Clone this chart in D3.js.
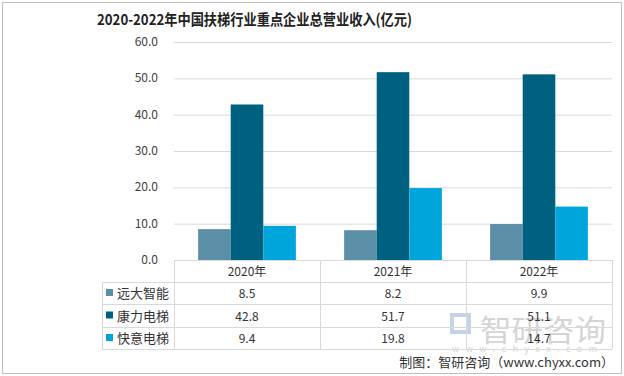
<!DOCTYPE html>
<html lang="zh">
<head>
<meta charset="utf-8">
<script src="https://d3js.org/d3.v7.min.js"></script>
<style>
  body { margin: 0; background: #fff; }
  text { font-family: "Noto Sans CJK SC", "Noto Sans", sans-serif; }
</style>
</head>
<body>
<div id="chart"></div>
<script>
// data
var years = ["2020年", "2021年", "2022年"];
var companies = ["远大智能", "康力电梯", "快意电梯"];
var yuanda = [8.5, 8.2, 9.9];
var kangli = [42.8, 51.7, 51.1];
var kuaiyi = [9.4, 19.8, 14.7];
var yTicks = [0, 10, 20, 30, 40, 50, 60];
var colors = ["#5b8fa8", "#00607f", "#00a5db"];

var series = [yuanda, kangli, kuaiyi];

var W = 624, H = 376;
var plot = {left: 174, right: 612, top: 42, bottom: 260};
var tableLeft = 102;
var rowLines = [260, 282, 304, 327, 349];

var svg = d3.select("#chart").append("svg")
    .attr("width", W).attr("height", H);

// outer border
svg.append("rect")
    .attr("x", 2.5).attr("y", 2.5)
    .attr("width", W - 5).attr("height", H - 5)
    .attr("fill", "none").attr("stroke", "#bfbfbf");

// title
svg.append("text")
    .attr("x", 97).attr("y", 25)
    .attr("textLength", 315).attr("lengthAdjust", "spacingAndGlyphs")
    .style("font-size", "15px").style("font-weight", "bold")
    .attr("fill", "#222")
    .text("2020-2022年中国扶梯行业重点企业总营业收入(亿元)");

var x = d3.scaleBand().domain(years).range([plot.left, plot.right]);
var x1 = d3.scaleBand().domain(companies)
    .range([0, x.bandwidth()]).paddingOuter(0.74).paddingInner(0);
var y = d3.scaleLinear().domain([0, 60]).range([plot.bottom, plot.top]);

// gridlines
svg.append("g").selectAll("line").data(yTicks.slice(1)).enter().append("line")
    .attr("x1", plot.left).attr("x2", plot.right)
    .attr("y1", function(d) { return y(d) + 0.5; })
    .attr("y2", function(d) { return y(d) + 0.5; })
    .attr("stroke", "#d9d9d9");

// y labels
svg.append("g").selectAll("text").data(yTicks).enter().append("text")
    .attr("x", 158).attr("y", function(d) { return y(d) + 4; })
    .attr("text-anchor", "end")
    .style("font-size", "12px").attr("fill", "#404040")
    .text(function(d) { return d.toFixed(1); });

// bars
series.forEach(function(vals, si) {
  svg.append("g").selectAll("rect").data(vals).enter().append("rect")
    .attr("x", function(d, i) { return x(years[i]) + x1(companies[si]); })
    .attr("width", x1.bandwidth())
    .attr("y", function(d) { return y(d); })
    .attr("height", function(d) { return y(0) - y(d); })
    .attr("fill", colors[si]);
});

// watermark (behind table text)
var wm = svg.append("g");
wm.append("rect").attr("x", 452).attr("y", 315).attr("width", 17).attr("height", 17)
    .attr("fill", "none").attr("stroke", "#c5d3e6").attr("stroke-width", 4);
wm.append("text").attr("x", 480).attr("y", 341)
    .attr("textLength", 126).attr("lengthAdjust", "spacingAndGlyphs")
    .style("font-size", "30px").attr("fill", "#d4d4d4")
    .text("智研咨询");
wm.append("text").attr("x", 452).attr("y", 352)
    .attr("textLength", 145).attr("lengthAdjust", "spacing")
    .style("font-size", "9px").attr("fill", "#d4d4d4")
    .text("www.chyxx.com");

// data table
var grid = svg.append("g").attr("stroke", "#d9d9d9").attr("fill", "none");
grid.append("line").attr("x1", plot.left).attr("x2", plot.right)
    .attr("y1", rowLines[0] + 0.5).attr("y2", rowLines[0] + 0.5);
rowLines.slice(1).forEach(function(r) {
  grid.append("line").attr("x1", tableLeft).attr("x2", plot.right)
      .attr("y1", r + 0.5).attr("y2", r + 0.5);
});
grid.append("line").attr("x1", tableLeft + 0.5).attr("x2", tableLeft + 0.5)
    .attr("y1", rowLines[1]).attr("y2", rowLines[4]);
x.domain().forEach(function(d) {
  grid.append("line").attr("x1", x(d) + 0.5).attr("x2", x(d) + 0.5)
      .attr("y1", rowLines[0]).attr("y2", rowLines[4]);
});
grid.append("line").attr("x1", plot.right + 0.5).attr("x2", plot.right + 0.5)
    .attr("y1", rowLines[0]).attr("y2", rowLines[4]);

// column headers
svg.append("g").selectAll("text").data(years).enter().append("text")
    .attr("x", function(d) { return x(d) + x.bandwidth() / 2; })
    .attr("y", 276)
    .attr("text-anchor", "middle")
    .style("font-size", "12px").attr("fill", "#333")
    .text(function(d) { return d; });

// rows
companies.forEach(function(c, si) {
  var mid = (rowLines[si + 1] + rowLines[si + 2]) / 2;
  svg.append("rect")
      .attr("x", 106).attr("y", mid - 4)
      .attr("width", 7).attr("height", 7)
      .attr("fill", colors[si]);
  svg.append("text")
      .attr("x", 117).attr("y", mid + 5)
      .style("font-size", "13px").attr("fill", "#333")
      .text(c);
  svg.append("g").selectAll("text").data(series[si]).enter().append("text")
      .attr("x", function(d, i) { return x(years[i]) + x.bandwidth() / 2; })
      .attr("y", mid + 5)
      .attr("text-anchor", "middle")
      .style("font-size", "12px").attr("fill", "#333")
      .text(function(d) { return d.toFixed(1); });
});

// footer
svg.append("text")
    .attr("x", 614).attr("y", 367)
    .attr("text-anchor", "end")
    .style("font-size", "13px").attr("fill", "#333")
    .text("制图：智研咨询（www.chyxx.com）");
</script>
</body>
</html>
